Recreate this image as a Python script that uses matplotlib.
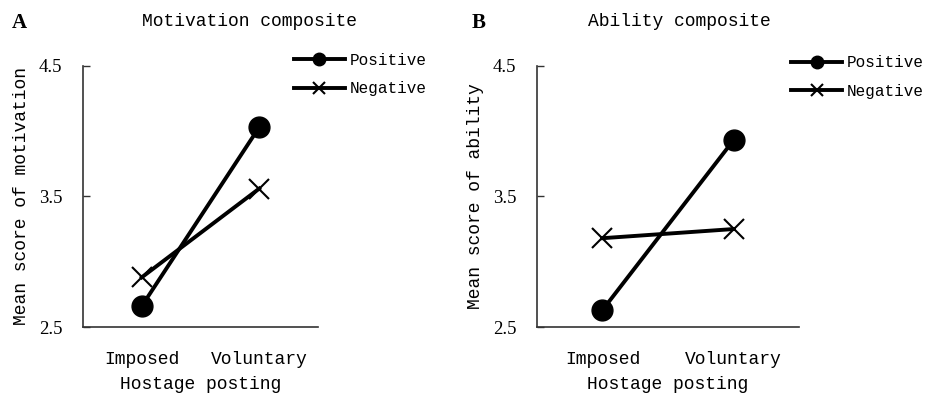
import numpy as np
import matplotlib.pyplot as plt

# data
groups = ['Imposed', 'Voluntary']
motivation_positive = [2.66, 4.03]
motivation_negative = [2.88, 3.56]
ability_positive = [2.63, 3.93]
ability_negative = [3.18, 3.25]
y_ticks = [2.5, 3.5, 4.5]

plt.rcParams['font.family'] = ['Liberation Mono', 'DejaVu Sans Mono']

fig = plt.figure(figsize=(9.25, 3.97), dpi=100)


def draw_panel(rect, pos, neg, ylabel, title, letter, title_x, letter_x, legend_anchor):
    ax = fig.add_axes(rect)
    x = np.arange(len(groups))
    ax.plot(x, pos, color='black', lw=2.8, marker='o', markersize=15,
            label='Positive')
    ax.plot(x, neg, color='black', lw=2.8, marker='x', markersize=15,
            markeredgewidth=1.5, label='Negative')
    ax.set_xlim(-0.5, 1.5)
    ax.set_ylim(2.5, 4.5)
    ax.set_xticks(x)
    ax.set_xticklabels(groups, fontsize=13)
    ax.set_yticks(y_ticks)
    ax.set_yticklabels([str(t) for t in y_ticks], fontsize=13.5,
                       family=['Liberation Serif'])
    ax.tick_params(axis='x', length=0, pad=17)
    ax.tick_params(axis='y', direction='in', length=5, width=1, pad=15,
                   color='#333333')
    for s in ['top', 'right']:
        ax.spines[s].set_visible(False)
    for s in ['left', 'bottom']:
        ax.spines[s].set_color('#333333')
        ax.spines[s].set_linewidth(1.2)
    ax.set_xlabel('Hostage posting', fontsize=13, labelpad=6)
    ax.set_ylabel(ylabel, fontsize=13, labelpad=6)

    ax.legend(loc='upper left', bbox_to_anchor=legend_anchor,
              frameon=False, fontsize=11.5, handlelength=3.2,
              handletextpad=0.3, labelspacing=0.85, markerscale=0.6,
              borderaxespad=0)
    fig.text(title_x, 0.945, title, ha='center', va='center', fontsize=13)
    fig.text(letter_x, 0.942, letter, ha='left', va='center', fontsize=15,
             fontweight='bold', family=['Liberation Serif'])
    return ax


draw_panel([0.0897, 0.1763, 0.2541, 0.658], motivation_positive, motivation_negative,
           'Mean score of motivation', 'Motivation composite', 'A',
           0.27, 0.013, (0.87, 1.075))
draw_panel([0.5805, 0.1763, 0.2833, 0.658], ability_positive, ability_negative,
           'Mean score of ability', 'Ability composite', 'B',
           0.735, 0.51, (0.945, 1.065))

fig.savefig('out.png', dpi=100)
